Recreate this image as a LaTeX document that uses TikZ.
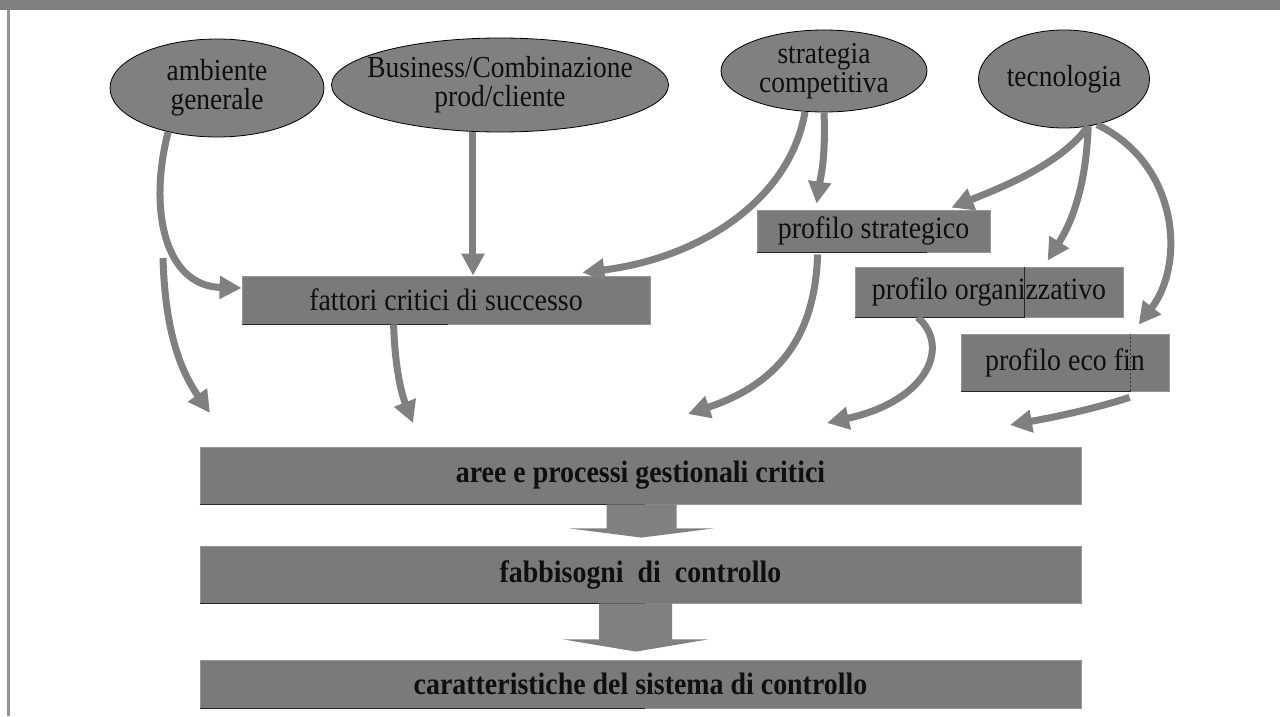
\documentclass[tikz,border=0pt]{standalone}
\usepackage{fontspec}
\setmainfont{Liberation Serif}[FakeStretch=0.9]
\usetikzlibrary{arrows.meta,calc,shapes.geometric}
\definecolor{ellg}{RGB}{128,128,128}
\definecolor{boxg}{RGB}{122,122,122}
\definecolor{boxedge}{RGB}{150,150,150}
\definecolor{arrg}{RGB}{128,128,128}
\definecolor{barg}{RGB}{128,128,128}
\definecolor{txt}{RGB}{15,15,15}
\begin{document}
\begin{tikzpicture}[x=1pt,y=-1pt,
  ell/.style={ellipse, draw=black, line width=0.8pt, fill=ellg, inner sep=0pt},
  elltext/.style={inner sep=0pt, align=center, font=\fontsize{30.5}{29}\selectfont, text=txt},
  box/.style={rectangle, draw=boxedge, line width=0.8pt, fill=boxg, inner sep=0pt,
    font=\fontsize{31}{30}\selectfont, text=txt},
  bigbox/.style={box, minimum width=881pt, font=\bfseries\fontsize{31}{30}\selectfont},
  arr/.style={draw=arrg, line width=7pt, -{Triangle[length=22pt,width=22pt]}},
  shadowline/.style={draw=black!85, line width=1.2pt},
  blockarrow/.style={fill=arrg}]
\useasboundingbox (0,0) rectangle (1280,716);
\fill[white] (0,0) rectangle (1280,716);
% frame
\fill[barg] (0,0) rectangle (1280,10);
\draw[gray!85, line width=2.5pt] (8.5,10) -- (8.5,716);

% ellipses
\node[ell, minimum width=214pt, minimum height=98pt] (amb) at (217,88) {};
\node[elltext] (ambt) at (amb.center) {ambiente\\generale};
\node[ell, minimum width=337pt, minimum height=94pt] (bus) at (500,85) {};
\node[elltext] (bust) at (bus.center) {Business/Combinazione\\prod/cliente};
\node[ell, minimum width=206pt, minimum height=82pt] (stra) at (824,71) {};
\node[elltext] (strat) at (stra.center) {strategia\\competitiva};
\node[ell, minimum width=171pt, minimum height=98pt] (tec) at (1064,79) {};
\node[elltext] (tect) at (tec.center) {tecnologia};

% boxes
\node[box, minimum width=408pt, minimum height=48pt] (fat) at (446,300) {fattori critici di successo};
\node[box, minimum width=233pt, minimum height=42pt] (pstr) at (873.5,231) {profilo strategico};
\node[box, minimum width=268pt, minimum height=50pt] (porg) at (989,292) {profilo organizzativo};
\node[box, minimum width=208pt, minimum height=57pt] (peco) at (1065,362.5) {profilo eco fin};
\node[bigbox, minimum height=57pt] (aree) at (640.5,475.5) {aree e processi gestionali critici};
\node[bigbox, minimum height=57pt] (fab) at (640.5,574.5) {fabbisogni~~di~~controllo};
\node[bigbox, minimum height=48pt] (car) at (640.5,684) {caratteristiche del sistema di controllo};

% shadow / artefact lines
\draw[shadowline] (fat.south west) -- ($(fat.south west)+(206,0)$);
\draw[shadowline] (pstr.south west) -- ($(pstr.south west)+(170,0)$);
\draw[shadowline] (porg.south west) -- ($(porg.south west)+(170,0)$) -- ($(porg.north west)+(170,0)$);
\draw[shadowline] (peco.south west) -- ($(peco.south west)+(170,0)$);
\draw[black!80, line width=1pt, dash pattern=on 2pt off 2pt] ($(peco.south west)+(170,0)$) -- ($(peco.north west)+(170,0)$);
\draw[shadowline] (aree.south west) -- ($(aree.south west)+(445,0)$);
\draw[shadowline] (fab.south west) -- ($(fab.south west)+(445,0)$);
\draw[shadowline] (car.south west) -- ($(car.south west)+(445,0)$);

% free ends
\coordinate (f1) at (163,258);
\coordinate (f2) at (210,413);
\coordinate (t9) at (413,423);
\coordinate (t10) at (688,414);
\coordinate (t11) at (827,423);
\coordinate (t12) at (1010,425);

% curved arrows
\draw[arr] (amb.222) .. controls (148,210) and (165,286) .. ($(fat.west)+(0,-12)$);
\draw[arr] (bus.240) -- (bus.240 |- fat.north);
\draw[arr] (stra.245) .. controls (790,200) and (700,258) .. ($(fat.north east)+(-68,-3)$);
\draw[arr] (stra.south) .. controls (826,160) and (820,180) .. ($(pstr.north west)+(60,-6)$);
\draw[arr] (tec.297) .. controls (1060,165) and (1000,188) .. ($(pstr.north east)+(-39,-2)$);
\draw[arr] (tec.297) .. controls (1086,190) and (1070,225) .. ($(porg.north west)+(193,-6)$);
\draw[arr] (tec.306) .. controls (1180,165) and (1185,265) .. ($(peco.north west)+(178,-9)$);
\draw[arr] (f1) .. controls (165,330) and (180,370) .. (f2);
\draw[arr] ($(fat.south west)+(152,0)$) .. controls (395,370) and (402,395) .. (t9);
\draw[arr] ($(pstr.south west)+(61,2)$) .. controls (815,340) and (775,385) .. (t10);
\draw[arr] ($(porg.south west)+(63,0)$) .. controls (950,345) and (930,400) .. (t11);
\draw[arr] ($(peco.south west)+(169,6)$) .. controls (1090,410) and (1050,418) .. (t12);

% block arrows
\fill[blockarrow] ($(aree.south)+(-34,0)$) -- ($(aree.south)+(36,0)$) -- ($(aree.south)+(36,24)$)
  -- ($(aree.south)+(73,24)$) -- ($(fab.north)+(1,-8)$) -- ($(aree.south)+(-71,24)$)
  -- ($(aree.south)+(-34,24)$) -- cycle;
\fill[blockarrow] ($(fab.south)+(-41.5,0)$) -- ($(fab.south)+(31.5,0)$) -- ($(fab.south)+(31.5,36)$)
  -- ($(fab.south)+(67.5,36)$) -- ($(car.north)+(-4.5,-8)$) -- ($(fab.south)+(-77.5,36)$)
  -- ($(fab.south)+(-41.5,36)$) -- cycle;
\end{tikzpicture}
\end{document}
